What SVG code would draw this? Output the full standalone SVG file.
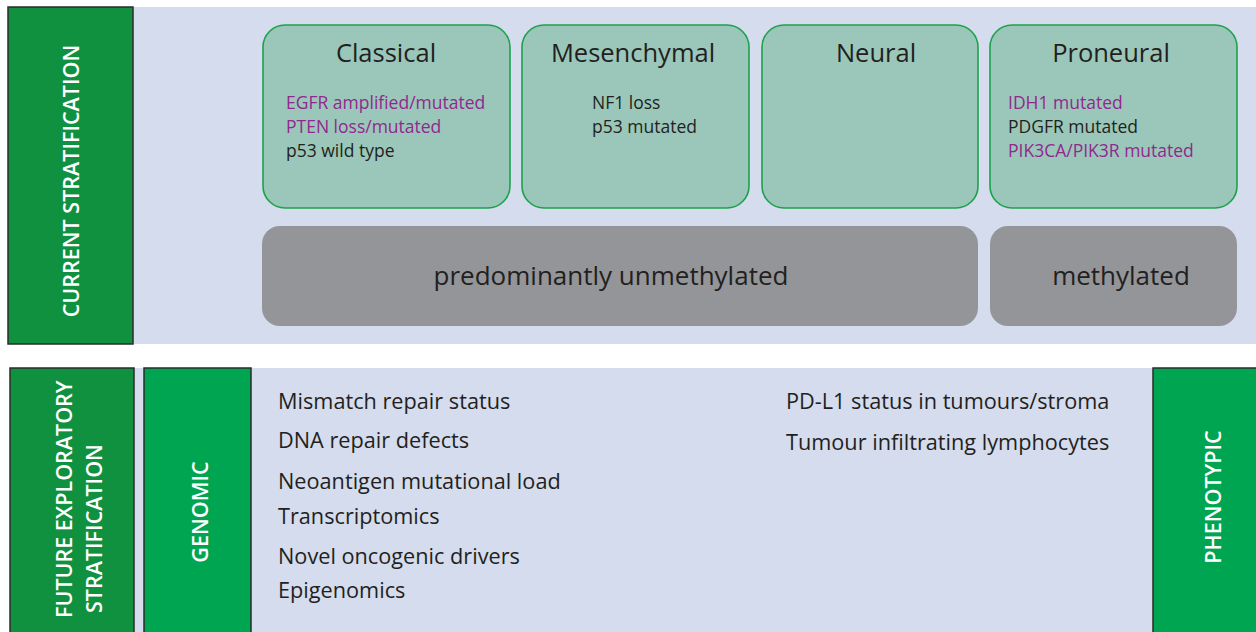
<svg xmlns="http://www.w3.org/2000/svg" width="1256" height="632" viewBox="0 0 1256 632">
<style>
.panel{fill:#d4dcee}
.lab{fill:#10913f;stroke:#2b2b2b;stroke-width:1.5}
.lab2{fill:#00a551;stroke:#2b2b2b;stroke-width:1.5}
.sub{fill:#9ac7b9;stroke:#1ca24b;stroke-width:1.6}
.gray{fill:#939598}
text{font-family:"Open Sans","DejaVu Sans",sans-serif}
.vt{fill:#ffffff;font-size:21.5px;font-weight:600;text-anchor:middle}
.title{fill:#231f20;font-size:25.5px;text-anchor:middle}
.item{font-size:17.5px;fill:#231f20}
.pur{fill:#92278f}
.gt{font-size:26px;fill:#231f20;text-anchor:middle}
.lt{font-size:21.7px;fill:#231f20}
</style>
<g id="top-panel"><rect class="panel" x="133" y="7" width="1123" height="337"/></g>
<g id="current-stratification">
<rect class="lab" x="8" y="7" width="125" height="337"/>
<text class="vt" transform="translate(79,181) rotate(-90)">CURRENT STRATIFICATION</text>
</g>
<g id="classical">
<rect class="sub" x="263" y="25" width="247" height="183" rx="22"/>
<text class="title" x="386" y="62">Classical</text>
<text class="item pur" x="286" y="109">EGFR amplified/mutated</text>
<text class="item pur" x="286" y="133">PTEN loss/mutated</text>
<text class="item" x="286" y="157">p53 wild type</text>
</g>
<g id="mesenchymal">
<rect class="sub" x="522" y="25" width="227" height="183" rx="22"/>
<text class="title" x="633" y="62">Mesenchymal</text>
<text class="item" x="592" y="109">NF1 loss</text>
<text class="item" x="592" y="133">p53 mutated</text>
</g>
<g id="neural">
<rect class="sub" x="762" y="25" width="216" height="183" rx="22"/>
<text class="title" x="876" y="62">Neural</text>
</g>
<g id="proneural">
<rect class="sub" x="990" y="25" width="247" height="183" rx="22"/>
<text class="title" x="1111" y="62">Proneural</text>
<text class="item pur" x="1008" y="109">IDH1 mutated</text>
<text class="item" x="1008" y="133">PDGFR mutated</text>
<text class="item pur" x="1008" y="157">PIK3CA/PIK3R mutated</text>
</g>
<g id="unmethylated">
<rect class="gray" x="262" y="226" width="716" height="100" rx="18"/>
<text class="gt" x="611" y="285">predominantly unmethylated</text>
</g>
<g id="methylated">
<rect class="gray" x="990" y="226" width="247" height="100" rx="18"/>
<text class="gt" x="1121" y="285">methylated</text>
</g>
<g id="bottom-panel"><rect class="panel" x="134" y="368" width="1122" height="264"/></g>
<g id="future-stratification">
<rect class="lab" x="10" y="368" width="124" height="266"/>
<text class="vt" style="text-anchor:start" transform="translate(72,618) rotate(-90)">FUTURE EXPLORATORY</text>
<text class="vt" style="text-anchor:start" transform="translate(102,613) rotate(-90)">STRATIFICATION</text>
</g>
<g id="genomic">
<rect class="lab2" x="144" y="368" width="107" height="266"/>
<text class="vt" transform="translate(208,512) rotate(-90)">GENOMIC</text>
</g>
<g id="genomic-items">
<text class="lt" x="278" y="409">Mismatch repair status</text>
<text class="lt" x="278" y="448">DNA repair defects</text>
<text class="lt" x="278" y="489">Neoantigen mutational load</text>
<text class="lt" x="278" y="524">Transcriptomics</text>
<text class="lt" x="278" y="564">Novel oncogenic drivers</text>
<text class="lt" x="278" y="598">Epigenomics</text>
</g>
<g id="phenotypic-items">
<text class="lt" x="786" y="409">PD-L1 status in tumours/stroma</text>
<text class="lt" x="786" y="450">Tumour infiltrating lymphocytes</text>
</g>
<g id="phenotypic">
<rect class="lab2" x="1153" y="368" width="104" height="266"/>
<text class="vt" transform="translate(1221,497) rotate(-90)">PHENOTYPIC</text>
</g>
<g id="connectors"></g>
</svg>
